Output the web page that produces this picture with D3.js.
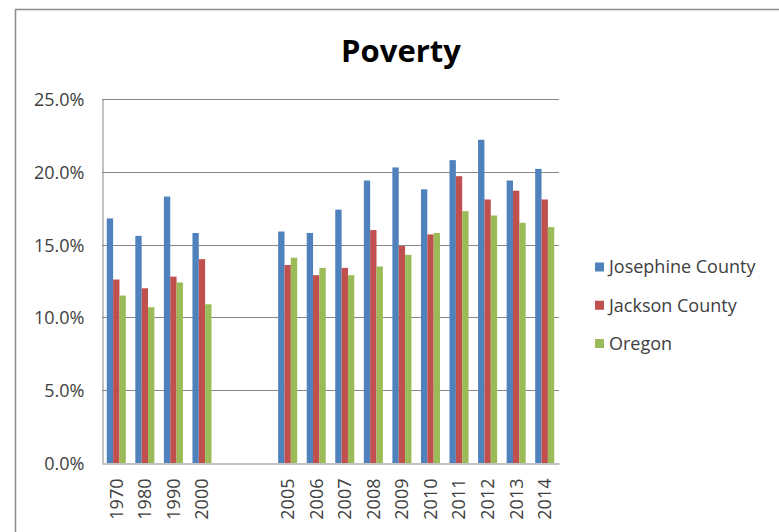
<!DOCTYPE html>
<html>
<head>
<meta charset="utf-8">
<script src="https://cdn.jsdelivr.net/npm/d3@7"></script>
<style>
  html, body { margin: 0; padding: 0; background: #fff; }
  svg { display: block; font-family: "Open Sans", "Noto Sans", sans-serif; }
</style>
</head>
<body>
<svg id="chart" width="779" height="532"></svg>
<script>
// Census years, with two empty slots separating the decennial and annual figures
const categories = ["1970", "1980", "1990", "2000", "", "", "2005", "2006", "2007", "2008", "2009", "2010", "2011", "2012", "2013", "2014"];
const seriesNames = ["Josephine County", "Jackson County", "Oregon"];
const josephine = [16.8, 15.6, 18.3, 15.8, null, null, 15.9, 15.8, 17.4, 19.4, 20.3, 18.8, 20.8, 22.2, 19.4, 20.2];
const jackson   = [12.6, 12.0, 12.8, 14.0, null, null, 13.6, 12.9, 13.4, 16.0, 14.9, 15.7, 19.7, 18.1, 18.7, 18.1];
const oregon    = [11.5, 10.7, 12.4, 10.9, null, null, 14.1, 13.4, 12.9, 13.5, 14.3, 15.8, 17.3, 17.0, 16.5, 16.2];
const yTicks = [0, 5, 10, 15, 20, 25];
const colors = ["#4F81BD", "#C0504D", "#9BBB59"];
const title = "Poverty";

const series = [josephine, jackson, oregon];

const svg = d3.select("#chart");
const plot = { left: 102, right: 559, top: 99, bottom: 463 };

// Outer chart frame
svg.append("rect")
  .attr("x", 15.5).attr("y", 9.5)
  .attr("width", 820).attr("height", 600)
  .attr("fill", "#fff")
  .attr("stroke", "#8c8c8c").attr("stroke-width", 1.5);

const x = d3.scaleBand()
  .domain(d3.range(categories.length))
  .range([plot.left, plot.right])
  .paddingInner(1 / 3)
  .paddingOuter(1 / 6);

const xs = d3.scaleBand()
  .domain(d3.range(series.length))
  .range([0, x.bandwidth()]);

const y = d3.scaleLinear().domain([0, 25]).range([plot.bottom, plot.top]);

// Horizontal gridlines
svg.append("g")
  .selectAll("line")
  .data(yTicks.slice(1))
  .join("line")
  .attr("x1", plot.left).attr("x2", plot.right)
  .attr("y1", d => Math.round(y(d)) + 0.5).attr("y2", d => Math.round(y(d)) + 0.5)
  .attr("stroke", "#868686").attr("stroke-width", 1);

// Bars
series.forEach((vals, s) => {
  svg.append("g")
    .selectAll("rect")
    .data(vals.map((v, i) => ({ v, i })).filter(d => d.v != null))
    .join("rect")
    .attr("x", d => x(d.i) + xs(s))
    .attr("width", xs.bandwidth())
    .attr("y", d => y(d.v))
    .attr("height", d => y(0) - y(d.v))
    .attr("fill", colors[s]);
});

// Value axis
const yAxis = d3.axisLeft(y)
  .tickValues(yTicks)
  .tickSize(0)
  .tickPadding(18)
  .tickFormat(d => d.toFixed(1) + "%");
const gy = svg.append("g")
  .attr("transform", `translate(${plot.left + 0.5},0)`)
  .call(yAxis);
gy.select(".domain").attr("stroke", "#868686");
gy.selectAll("text")
  .attr("font-family", "Open Sans, sans-serif")
  .attr("font-size", 18)
  .attr("fill", "#404040")
  .attr("dy", "0.36em");

// Category axis
const xAxis = d3.axisBottom(x)
  .tickSize(0)
  .tickFormat(i => categories[i]);
const gx = svg.append("g")
  .attr("transform", `translate(0,${plot.bottom + 0.5})`)
  .call(xAxis);
gx.select(".domain").attr("stroke", "#868686");
gx.selectAll("text")
  .attr("font-family", "Open Sans, sans-serif")
  .attr("font-size", 18)
  .attr("fill", "#404040")
  .attr("text-anchor", "end")
  .attr("dy", null)
  .attr("y", 0)
  .attr("transform", "translate(6.4,15) rotate(-90)");

// Title
svg.append("text")
  .attr("x", 401).attr("y", 62)
  .attr("text-anchor", "middle")
  .attr("font-family", "Open Sans, sans-serif")
  .attr("font-weight", "bold")
  .attr("font-size", 31)
  .attr("fill", "#000")
  .text(title);

// Legend
const legend = svg.append("g");
const rowY = d3.scalePoint().domain(seriesNames).range([267, 343.5]);
seriesNames.forEach((name, s) => {
  const cy = rowY(name);
  legend.append("rect")
    .attr("x", 595).attr("y", cy - 4.5)
    .attr("width", 9).attr("height", 9)
    .attr("fill", colors[s]);
  legend.append("text")
    .attr("x", 609).attr("y", cy + 6.4)
    .attr("font-family", "Open Sans, sans-serif")
    .attr("font-size", 18)
    .attr("fill", "#404040")
    .text(name);
});
</script>
</body>
</html>
